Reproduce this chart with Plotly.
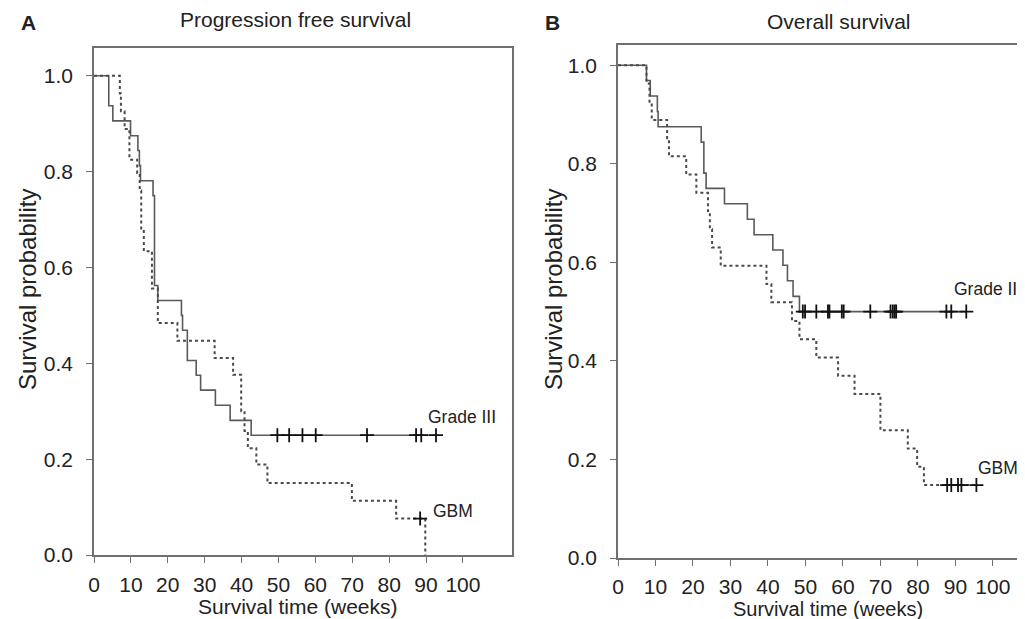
import numpy as np
import plotly.graph_objects as go

# ---------------- Data ----------------
# Panel A: progression free survival
pfs_g3_time = [4.0, 5.1, 9.9, 11.9, 12.3, 12.6, 16.0, 16.4, 17.3, 23.7, 24.0, 25.3, 27.7, 28.9, 32.9, 36.9, 42.6]
pfs_g3_surv = [0.9375, 0.906, 0.875, 0.844, 0.8125, 0.781, 0.75, 0.5625, 0.531, 0.5, 0.469, 0.406, 0.375, 0.344, 0.3125, 0.281, 0.25]
pfs_g3_cens = [49.7, 52.9, 56.5, 60.1, 74.0, 87.3, 88.7, 92.7]

pfs_gbm_time = [7.0, 7.3, 8.3, 9.6, 11.7, 12.4, 12.8, 13.5, 15.7, 17.3, 22.6, 32.7, 37.7, 39.9, 40.8, 41.7, 44.0, 47.0, 69.9, 81.9, 89.8]
pfs_gbm_surv = [0.963, 0.926, 0.889, 0.825, 0.797, 0.76, 0.676, 0.634, 0.556, 0.484, 0.447, 0.411, 0.376, 0.300, 0.259, 0.223, 0.189, 0.150, 0.113, 0.076, 0.0]
pfs_gbm_cens = [88.4]

# Panel B: overall survival
os_g3_time = [7.6, 8.6, 10.5, 10.7, 22.2, 22.9, 23.5, 28.4, 34.5, 36.3, 41.3, 44.0, 45.2, 46.7, 48.4]
os_g3_surv = [0.969, 0.9375, 0.906, 0.875, 0.844, 0.781, 0.75, 0.719, 0.6875, 0.656, 0.625, 0.594, 0.5625, 0.531, 0.5]
os_g3_cens = [49.3, 49.9, 52.9, 56.0, 56.4, 59.7, 60.2, 67.3, 72.7, 73.3, 73.8, 74.2, 87.6, 88.9, 92.9]

os_gbm_time = [7.6, 8.4, 9.0, 13.1, 13.6, 18.2, 20.9, 24.0, 24.5, 25.1, 27.4, 39.6, 40.9, 46.4, 48.4, 52.9, 58.7, 63.1, 70.0, 77.3, 79.8, 81.6]
os_gbm_surv = [0.963, 0.926, 0.889, 0.852, 0.815, 0.778, 0.741, 0.704, 0.667, 0.630, 0.593, 0.556, 0.519, 0.481, 0.444, 0.407, 0.370, 0.333, 0.259, 0.222, 0.185, 0.148]
os_gbm_cens = [87.8, 88.9, 90.7, 91.6, 95.6]

x_ticks = [0, 10, 20, 30, 40, 50, 60, 70, 80, 90, 100]
y_ticks = [0.0, 0.2, 0.4, 0.6, 0.8, 1.0]
y_tick_text = ["0.0", "0.2", "0.4", "0.6", "0.8", "1.0"]

FONT = "Liberation Sans, Arial, Helvetica, sans-serif"
W, H = 1025, 619
SOLID_C = "#5a5a5a"
DOT_C = "#4a4a4a"
AXIS_C = "#707070"


def step_xy(times, surv, cens):
    x = [0.0] + list(times)
    y = [1.0] + list(surv)
    if cens and max(cens) > x[-1]:
        x.append(max(cens))
        y.append(y[-1])
    return x, y


def surv_at(times, surv, t):
    idx = np.searchsorted(np.array(times), t, side="right")
    return 1.0 if idx == 0 else surv[idx - 1]


fig = go.Figure()


def add_curve(times, surv, cens, xa, ya, solid):
    x, y = step_xy(times, surv, cens)
    fig.add_trace(go.Scatter(
        x=x, y=y, mode="lines", line_shape="hv",
        line=dict(color=SOLID_C if solid else DOT_C, width=1.6 if solid else 2.0,
                  dash="solid" if solid else "dot"),
        xaxis=xa, yaxis=ya, showlegend=False, hoverinfo="skip"))
    fig.add_trace(go.Scatter(
        x=cens, y=[surv_at(times, surv, c) for c in cens], mode="markers",
        marker=dict(symbol="cross-thin", size=10, line=dict(color="#111", width=1.8)),
        xaxis=xa, yaxis=ya, showlegend=False, hoverinfo="skip"))


add_curve(pfs_g3_time, pfs_g3_surv, pfs_g3_cens, "x", "y", True)
add_curve(pfs_gbm_time, pfs_gbm_surv, pfs_gbm_cens, "x", "y", False)
add_curve(os_g3_time, os_g3_surv, os_g3_cens, "x2", "y2", True)
add_curve(os_gbm_time, os_gbm_surv, os_gbm_cens, "x2", "y2", False)


def px_x(p):
    return p / W


def px_y(p):
    return 1 - p / H


axis_common = dict(showgrid=False, zeroline=False, showline=True, linecolor=AXIS_C, linewidth=1.5,
                   ticks="outside", ticklen=6, tickwidth=1.3, tickcolor=AXIS_C, automargin=False,
                   tickfont=dict(family=FONT, size=21, color="#222"))

fig.update_layout(
    template="none",
    width=W, height=H, margin=dict(l=0, r=0, t=0, b=0, pad=0), autosize=False,
    paper_bgcolor="white", plot_bgcolor="white",
    xaxis=dict(domain=[px_x(86), px_x(504)], range=[0, 113.3], tickvals=x_ticks,
               anchor="y", mirror=True, ticklabelstandoff=4, **axis_common),
    yaxis=dict(domain=[px_y(547), px_y(40)], range=[0, 1.058], tickvals=y_ticks, ticktext=y_tick_text,
               anchor="x", mirror=True, ticklabelstandoff=9, **axis_common),
    xaxis2=dict(domain=[px_x(610), 1.0], range=[0, 110.7], tickvals=x_ticks,
                anchor="y2", mirror=True, ticklabelstandoff=3, **axis_common),
    yaxis2=dict(domain=[px_y(550), px_y(37)], range=[0, 1.041], tickvals=y_ticks, ticktext=y_tick_text,
                anchor="x2", mirror=False, ticklabelstandoff=9, **axis_common),
)

txt = dict(family=FONT, color="#222")
ann = [
    # panel letters and titles
    dict(x=px_x(11), y=px_y(15), text="<b>A</b>", font=dict(size=21, **txt), xanchor="left"),
    dict(x=px_x(287), y=px_y(12), text="Progression free survival", font=dict(size=21, **txt)),
    dict(x=px_x(535), y=px_y(15), text="<b>B</b>", font=dict(size=21, **txt), xanchor="left"),
    dict(x=px_x(831), y=px_y(13), text="Overall survival", font=dict(size=21, **txt)),
    # axis titles
    dict(x=px_x(290), y=px_y(598), text="Survival time (weeks)", font=dict(size=21, **txt)),
    dict(x=px_x(820), y=px_y(601), text="Survival time (weeks)", font=dict(size=20, **txt)),
    dict(x=px_x(19), y=px_y(282), text="Survival probability", textangle=-90, font=dict(size=24, **txt)),
    dict(x=px_x(545), y=px_y(282), text="Survival probability", textangle=-90, font=dict(size=24, **txt)),
]
for a in ann:
    a.setdefault("xanchor", "center")
    a.update(xref="paper", yref="paper", showarrow=False, yanchor="middle")

# curve labels in data coordinates
ann += [
    dict(x=90.0, y=0.289, xref="x", yref="y", text="Grade III"),
    dict(x=91.4, y=0.091, xref="x", yref="y", text="GBM"),
    dict(x=89.2, y=0.545, xref="x2", yref="y2", text="Grade III"),
    dict(x=95.4, y=0.183, xref="x2", yref="y2", text="GBM"),
]
for a in ann[-4:]:
    a.update(showarrow=False, xanchor="left", yanchor="middle", font=dict(size=17.5, **txt))

fig.update_layout(annotations=ann)
fig.write_html("out.html")
